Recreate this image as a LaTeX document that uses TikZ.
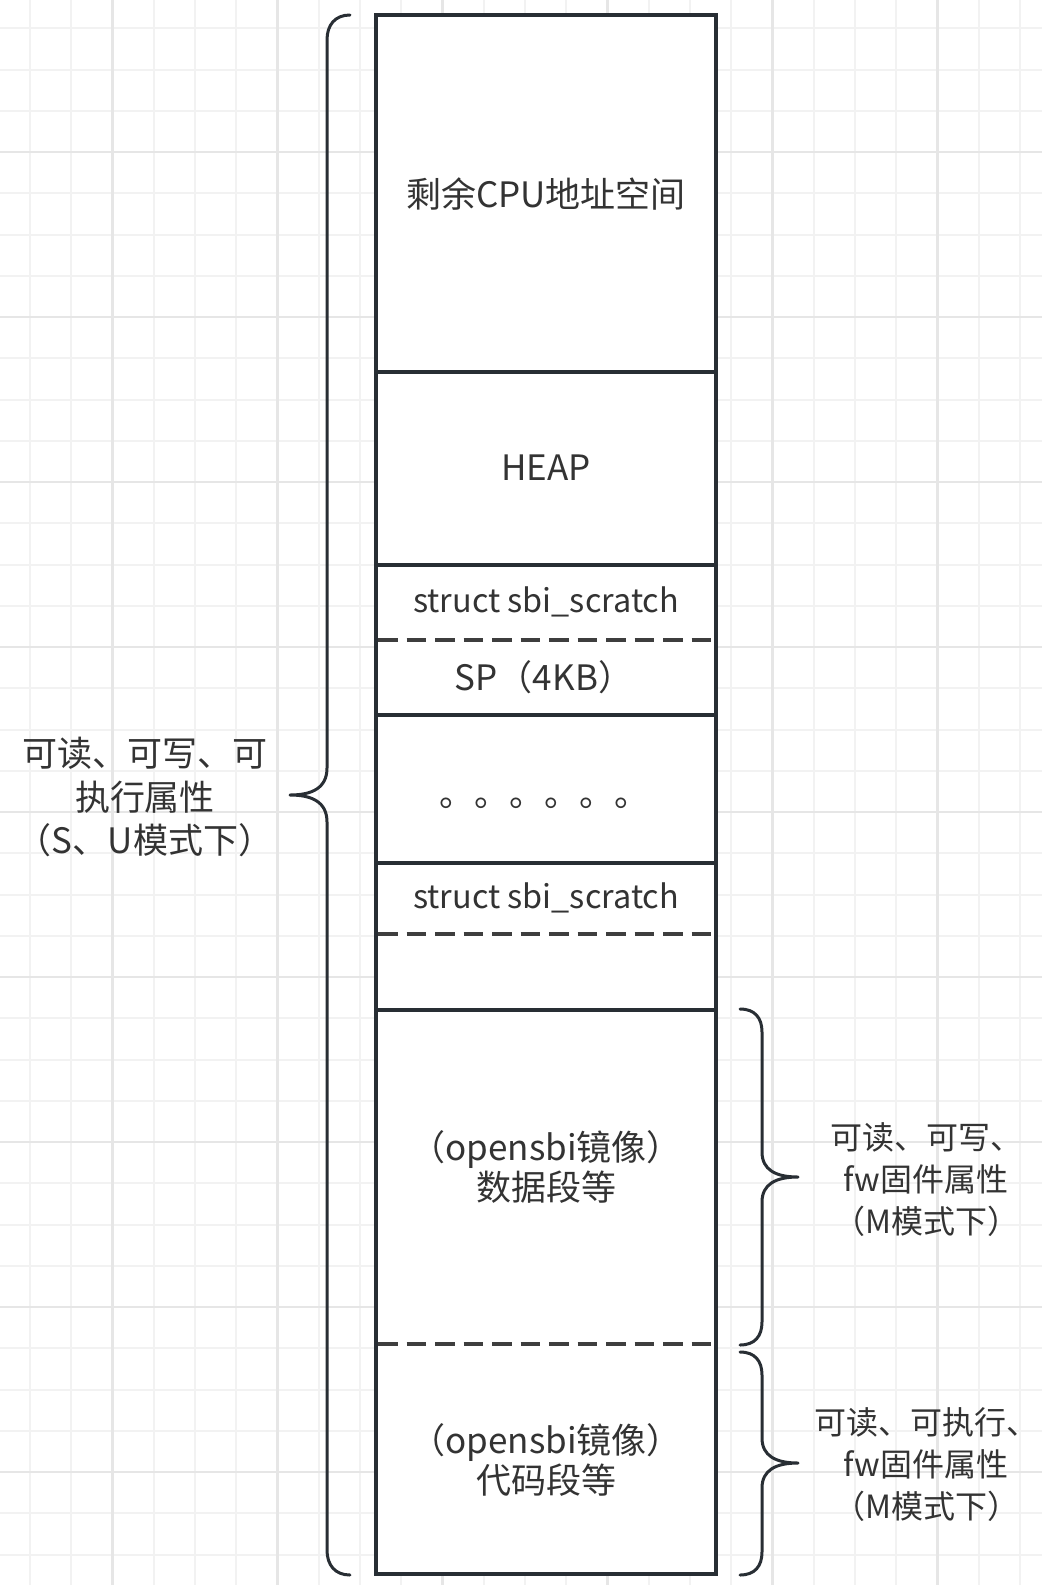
\documentclass[tikz,border=0pt]{standalone}
\usepackage{fontspec}
\usepackage{xcolor}
\usepackage{tikz}
\newfontfamily\cjk{Noto Sans CJK SC}
\definecolor{lineslate}{RGB}{40, 46, 52}
\definecolor{textgray}{RGB}{51, 51, 51}
\definecolor{dashgray}{RGB}{62, 62, 62}
\definecolor{gridlight}{RGB}{242, 242, 242}
\definecolor{gridmid}{RGB}{230, 230, 230}

\begin{document}
\begin{tikzpicture}[x=0.5pt, y=-0.5pt,
    memline/.style={draw=lineslate, line width=1.65pt},
    cutline/.style={draw=dashgray, line width=1.8pt, dash pattern=on 9.75pt off 4.5pt},
    brace/.style={draw=lineslate, line width=1.5pt, line join=round, line cap=round},
    seglabel/.style={font=\cjk\fontsize{17.5pt}{20pt}\selectfont, text=textgray, inner sep=0pt, align=center},
    structlabel/.style={seglabel, font=\cjk\fontsize{16.2pt}{20pt}\selectfont},
    sidelabel/.style={font=\cjk\fontsize{17.5pt}{21.75pt}\selectfont, text=textgray, inner sep=0pt, align=center},
    mlabel/.style={font=\cjk\fontsize{16pt}{21pt}\selectfont, text=textgray, inner sep=0pt, align=center}]
    \useasboundingbox (0,0) rectangle (1042,1585);
    \fill[white] (0,0) rectangle (1042,1585);

    % background grid
    \foreach \k in {-2,...,22}
        \draw[gridlight, line width=1pt] ({112.3+41.25*\k},0) -- ({112.3+41.25*\k},1585);
    \foreach \k in {-3,...,34}
        \draw[gridlight, line width=1pt] (0,{152+41.25*\k}) -- (1042,{152+41.25*\k});
    \foreach \k in {0,...,5}
        \draw[gridmid, line width=1.3pt] ({112.3+165*\k},0) -- ({112.3+165*\k},1585);
    \foreach \k in {0,...,8}
        \draw[gridmid, line width=1.3pt] (0,{152+165*\k}) -- (1042,{152+165*\k});

    % memory column
    \draw[memline, fill=white] (376,15) rectangle (716,1574);
    \foreach \y in {372,565,715,863,1010}
        \draw[memline] (376,\y) -- (716,\y);
    \foreach \y in {640,934,1344}
        \draw[cutline] (378,\y) -- (711,\y);

    \node[seglabel] (rest) at (546,194) {剩余CPU地址空间};
    \node[seglabel] (heap) at (546,468) {HEAP};
    \node[structlabel] (scratchA) at (546,602) {struct sbi\_scratch};
    \node[seglabel] (stackA) at (544,677) {SP（4KB）};
    \node[seglabel] (dots) at (544,803) {。。。。。。};
    \node[structlabel] (scratchB) at (546,898) {struct sbi\_scratch};
    \node[seglabel] (data) at (546,1167) {（opensbi镜像）\\数据段等};
    \node[seglabel] (code) at (546,1460) {（opensbi镜像）\\代码段等};

    % braces
    \draw[brace] (350,15) .. controls (335,15) and (327,25) .. (327,40) -- (327,768)
        .. controls (327,788) and (312,795) .. (290,795)
        .. controls (312,795) and (327,802) .. (327,822) -- (327,1550)
        .. controls (327,1565) and (335,1575) .. (350,1575);
    \draw[brace] (740,1009) .. controls (755,1009) and (762,1018) .. (762,1032) -- (762,1152)
        .. controls (762,1170) and (776,1177) .. (798,1177)
        .. controls (776,1177) and (762,1184) .. (762,1202) -- (762,1322)
        .. controls (762,1336) and (755,1345) .. (740,1345);
    \draw[brace] (740,1352) .. controls (755,1352) and (762,1361) .. (762,1375) -- (762,1438)
        .. controls (762,1456) and (776,1463) .. (798,1463)
        .. controls (776,1463) and (762,1470) .. (762,1488) -- (762,1552)
        .. controls (762,1566) and (755,1575) .. (740,1575);

    \node[sidelabel] (smode) at (145,797) {可读、可写、可\\执行属性\\（S、U模式下）};
    \node[mlabel] (mdata) at (926,1180) {可读、可写、\\fw固件属性\\（M模式下）};
    \node[mlabel] (mcode) at (926,1465) {可读、可执行、\\fw固件属性\\（M模式下）};
\end{tikzpicture}
\end{document}
